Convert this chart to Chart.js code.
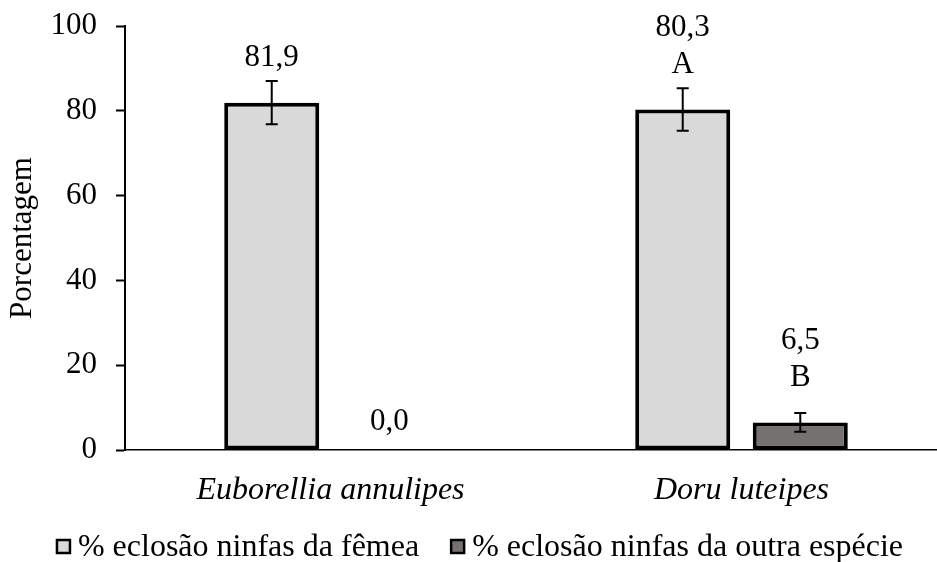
<!DOCTYPE html>
<html>
<head>
<meta charset="utf-8">
<script src="https://cdn.jsdelivr.net/npm/chart.js@4.4.1/dist/chart.umd.min.js"></script>
<style>
  html, body { margin: 0; padding: 0; background: #ffffff; }
  #wrap { width: 937px; height: 562px; }
</style>
</head>
<body>
<div id="wrap"><canvas id="chart" width="937" height="562"></canvas></div>
<script>
// Hatching percentages per species
const categories = ['Euborellia annulipes', 'Doru luteipes'];
const seriesNames = ['% eclosão ninfas da fêmea', '% eclosão ninfas da outra espécie'];
const femaleHatch = [81.9, 80.3];
const otherHatch = [0.0, 6.5];
const femaleError = [5.1, 5.0];
const otherError = [0.0, 2.2];
const femaleLetters = ['', 'A'];
const otherLetters = ['', 'B'];
const yTickValues = [0, 20, 40, 60, 80, 100];

const SERIF = '"Liberation Serif", "Times New Roman", serif';
const lightFill = '#d9d9d9';
const darkFill = '#767171';

// Category axis whose plotting range runs a little past the right canvas edge
class OverhangCategoryScale extends Chart.CategoryScale {
  configure() {
    super.configure();
    const extra = this.options.overhang || 0;
    this._endPixel += extra;
    this._length += extra;
  }
}
OverhangCategoryScale.id = 'overhangCategory';
OverhangCategoryScale.defaults = Chart.CategoryScale.defaults;
Chart.register(OverhangCategoryScale);

// Error bars plus value / significance letters above each bar
const annotatePlugin = {
  id: 'annotate',
  afterDatasetsDraw(chart) {
    const ctx = chart.ctx;
    const yScale = chart.scales.y;
    chart.data.datasets.forEach((ds, di) => {
      const meta = chart.getDatasetMeta(di);
      meta.data.forEach((bar, i) => {
        const v = ds.data[i];
        const err = ds.errors[i];
        ctx.save();
        if (err > 0) {
          const yTop = yScale.getPixelForValue(v + err);
          const yBot = yScale.getPixelForValue(v - err);
          ctx.strokeStyle = '#000';
          ctx.lineWidth = 2;
          ctx.beginPath();
          ctx.moveTo(bar.x, yTop); ctx.lineTo(bar.x, yBot);
          ctx.moveTo(bar.x - 6, yTop); ctx.lineTo(bar.x + 6, yTop);
          ctx.moveTo(bar.x - 6, yBot); ctx.lineTo(bar.x + 6, yBot);
          ctx.stroke();
        }
        ctx.fillStyle = '#000';
        ctx.font = '31px ' + SERIF;
        ctx.textAlign = 'center';
        ctx.textBaseline = 'middle';
        const text = v.toFixed(1).replace('.', ',');
        const labelY = bar.y - (v > 0 ? 45 : 28);
        const letter = ds.letters[i];
        if (letter) {
          ctx.fillText(letter, bar.x, labelY);
          ctx.fillText(text, bar.x, labelY - 37);
        } else {
          ctx.fillText(text, bar.x, labelY);
        }
        ctx.restore();
      });
    });
  }
};

// Legend row under the category labels
const legendPlugin = {
  id: 'legendRow',
  afterDraw(chart) {
    const ctx = chart.ctx;
    ctx.save();
    ctx.font = '32px ' + SERIF;
    ctx.textBaseline = 'alphabetic';
    const box = 13, gapText = 8, gapItem = 32, centerX = 480, baseY = 556;
    const items = chart.data.datasets.map(ds => ({ text: ds.label, fill: ds.backgroundColor }));
    let total = 0;
    items.forEach((it, k) => {
      it.w = ctx.measureText(it.text).width;
      total += box + gapText + it.w + (k < items.length - 1 ? gapItem : 0);
    });
    let x = centerX - total / 2;
    items.forEach(it => {
      ctx.fillStyle = it.fill;
      ctx.fillRect(x, baseY - 16, box, box);
      ctx.strokeStyle = '#000';
      ctx.lineWidth = 2.5;
      ctx.strokeRect(x, baseY - 16, box, box);
      ctx.fillStyle = '#000';
      ctx.fillText(it.text, x + box + gapText, baseY);
      x += box + gapText + it.w + gapItem;
    });
    ctx.restore();
  }
};

new Chart(document.getElementById('chart'), {
  type: 'bar',
  data: {
    labels: categories,
    datasets: [
      {
        label: seriesNames[0], data: femaleHatch, errors: femaleError, letters: femaleLetters,
        backgroundColor: lightFill, borderColor: '#000', borderWidth: 4, borderSkipped: false,
        categoryPercentage: 0.572, barPercentage: 0.8085
      },
      {
        label: seriesNames[1], data: otherHatch, errors: otherError, letters: otherLetters,
        backgroundColor: darkFill, borderColor: '#000', borderWidth: 4, borderSkipped: false,
        categoryPercentage: 0.572, barPercentage: 0.8085
      }
    ]
  },
  options: {
    responsive: false,
    animation: false,
    devicePixelRatio: 1,
    layout: { padding: { top: 26, right: 0, bottom: 0, left: 0 } },
    plugins: { legend: { display: false }, tooltip: { enabled: false } },
    scales: {
      x: {
        type: 'overhangCategory',
        overhang: 10,
        offset: true,
        grid: { display: false, drawTicks: false },
        border: { display: true, color: '#000', width: 1.5 },
        ticks: { color: '#000', padding: 21, font: { family: SERIF, size: 32, style: 'italic' } },
        afterFit(s) { s.height = 112; }
      },
      y: {
        min: 0, max: 100,
        afterBuildTicks(s) { s.ticks = yTickValues.map(v => ({ value: v })); },
        grid: { drawOnChartArea: false, drawTicks: true, tickLength: 9, tickColor: '#000', tickWidth: 2 },
        border: { display: true, color: '#000', width: 2 },
        ticks: { color: '#000', padding: 19, font: { family: SERIF, size: 31 } },
        title: { display: true, text: 'Porcentagem', color: '#000', padding: { top: 4, bottom: 0 }, font: { family: SERIF, size: 31 } },
        afterFit(s) { s.width = 125; s.paddingTop = 0; s.paddingBottom = 0; }
      }
    }
  },
  plugins: [annotatePlugin, legendPlugin]
});
</script>
</body>
</html>
